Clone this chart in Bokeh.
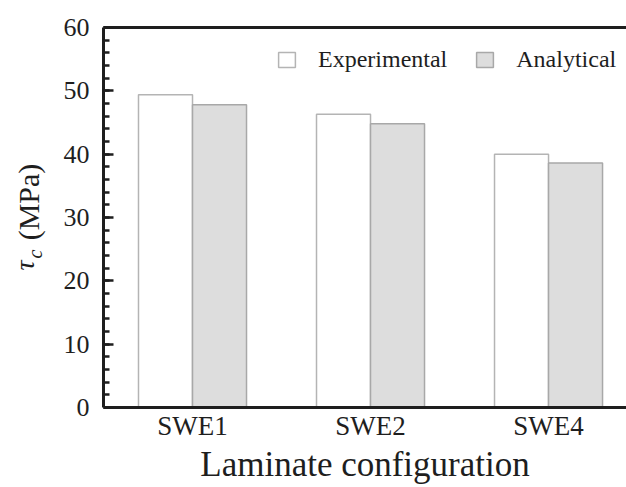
import numpy as np
from bokeh.plotting import figure
from bokeh.layouts import row
from bokeh.models import (Range1d, FixedTicker, LinearAxis, Legend, LegendItem,
                          ColumnDataSource, SingleIntervalTicker)
from bokeh.core.properties import value
from bokeh.transform import dodge
from bokeh.embed import file_html
from bokeh.resources import INLINE

categories = ["SWE1", "SWE2", "SWE4"]
experimental = [49.4, 46.3, 40.0]
analytical = [47.8, 44.8, 38.6]
series_names = ["Experimental", "Analytical"]

FONT = "Liberation Serif"
INK = "#1e1e1e"
W, H = 626, 487
LABEL_W = 60
FRAME_TOP, FRAME_BOTTOM = 27, 407

xpos = list(range(1, len(categories) + 1))
src = ColumnDataSource(dict(x=xpos, exp=experimental, ana=analytical))

p = figure(width=W - LABEL_W, height=H, output_backend="svg", toolbar_location=None,
           x_range=Range1d(0.5, 3.438), y_range=Range1d(0, 60),
           min_border_left=103 - LABEL_W, min_border_right=0,
           min_border_top=FRAME_TOP, min_border_bottom=H - FRAME_BOTTOM)
p.outline_line_color = None
p.background_fill_color = "white"
p.border_fill_color = "white"
p.xgrid.visible = False
p.ygrid.visible = False

bw = 0.3034
r_exp = p.vbar(x=dodge("x", -bw / 2), top="exp", width=bw, source=src,
               fill_color="white", line_color="#b4b4b4", line_width=1.5)
r_ana = p.vbar(x=dodge("x", bw / 2), top="ana", width=bw, source=src,
               fill_color="#dddddd", line_color="#a8a8a8", line_width=1.5)

# x axis
xa = p.xaxis[0]
xa.ticker = FixedTicker(ticks=xpos)
xa.major_label_overrides = {i: c for i, c in zip(xpos, categories)}
xa.major_tick_line_color = None
xa.minor_tick_line_color = None
xa.major_tick_out = 0
xa.major_tick_in = 0
xa.axis_line_width = 3
xa.axis_line_color = INK
xa.major_label_text_font = FONT
xa.major_label_text_font_size = "27px"
xa.major_label_text_color = INK
xa.major_label_standoff = 3
xa.axis_label = "Laminate configuration"
xa.axis_label_text_font = FONT
xa.axis_label_text_font_size = "35px"
xa.axis_label_text_font_style = "normal"
xa.axis_label_text_color = INK
xa.axis_label_standoff = 1

# y axis
ya = p.yaxis[0]
ya.ticker = SingleIntervalTicker(interval=10, num_minor_ticks=5)
ya.axis_line_width = 3
ya.axis_line_color = INK
ya.major_tick_in = 10
ya.major_tick_out = 0
ya.minor_tick_in = 6
ya.minor_tick_out = 0
ya.major_tick_line_width = 2.5
ya.minor_tick_line_width = 2.5
ya.major_tick_line_color = INK
ya.minor_tick_line_color = INK
ya.major_label_text_font = FONT
ya.major_label_text_font_size = "26px"
ya.major_label_text_color = INK
ya.major_label_standoff = 14

# top frame line
top = LinearAxis(ticker=FixedTicker(ticks=[]), axis_line_width=3, axis_line_color=INK,
                 major_tick_line_color=None, minor_tick_line_color=None,
                 major_label_text_font_size="0px")
p.add_layout(top, "above")

legend = Legend(items=[LegendItem(label=series_names[0], renderers=[r_exp]),
                       LegendItem(label=series_names[1], renderers=[r_ana])],
                orientation="horizontal", location=(173, 334),
                label_text_font=FONT, label_text_font_size="24px",
                label_text_color=INK, glyph_width=21, glyph_height=19,
                label_standoff=21, spacing=27, padding=0, margin=0,
                border_line_color=None, background_fill_alpha=0)
p.add_layout(legend, "center")

# narrow panel holding the rotated y-axis title: tau_c (MPa)
# (its frame is aligned with the main frame, so map screen rows directly)
q = figure(width=LABEL_W, height=H, output_backend="svg", toolbar_location=None,
           x_range=Range1d(0, LABEL_W), y_range=Range1d(H - FRAME_BOTTOM, H - FRAME_TOP),
           x_axis_location=None, y_axis_location=None, min_border=0)
q.outline_line_color = None
q.background_fill_color = "white"
q.border_fill_color = "white"
q.xgrid.visible = False
q.ygrid.visible = False
ang = np.pi / 2
mid = dict(angle=ang, text_font=value(FONT), text_color=INK,
           text_baseline="middle", text_align="center")
q.text(x=[23.5], y=[H - 265], text=["τ"], text_font_size="28px",
       text_font_style="italic", **mid)
q.text(x=[34.5], y=[H - 253.5], text=["c"], text_font_size="20px",
       text_font_style="italic", **mid)
q.text(x=[27.5], y=[H - 201.5], text=["(MPa)"], text_font_size="30px", **mid)

layout = row(q, p, spacing=0)
open("out.html", "w").write(file_html(layout, INLINE))
